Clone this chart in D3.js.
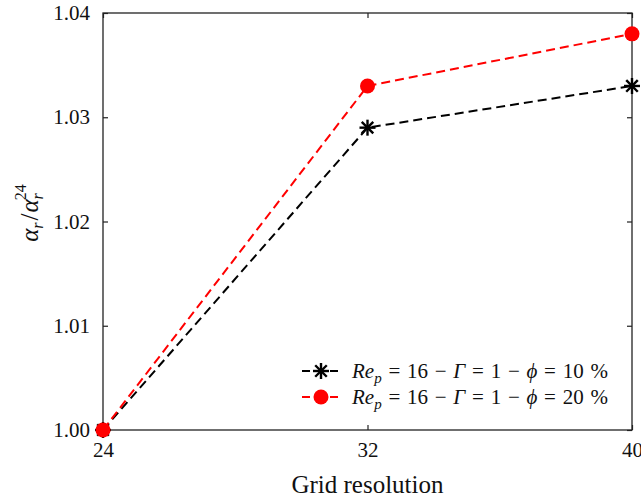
<!DOCTYPE html>
<html>
<head lang="en">
    <meta charset="UTF-8">
    <title></title>
    <style>
        body { margin: 0; background: #fff; }
        text { font-family: "Liberation Serif", "DejaVu Serif", serif; }
    </style>
</head>
<body>
    <div id="graph"></div>

<script src="https://cdn.jsdelivr.net/npm/d3@7"></script>
<script>
    // データ
    var gridRes = [24, 32, 40];
    var phi10 = [1.000, 1.029, 1.033];
    var phi20 = [1.000, 1.033, 1.038];
    var yTicks = [1.00, 1.01, 1.02, 1.03, 1.04];
    var seriesNames = ["10", "20"];

    var W = 641, H = 500;
    var mLeft = 103, mRight = 632, mTop = 13, mBottom = 430;

    var svg = d3.select("#graph")
        .append("svg")
        .attr("width", W)
        .attr("height", H);

    var x = d3.scaleLinear().domain([24, 40]).range([mLeft, mRight]);
    var y = d3.scaleLinear().domain([1.00, 1.04]).range([mBottom, mTop]);

    //軸（内向きの目盛り）
    svg.append("g").attr("transform", "translate(0," + mBottom + ")")
        .call(d3.axisBottom(x).tickValues(gridRes).tickSizeInner(-5).tickSizeOuter(0).tickPadding(12));
    svg.append("g").attr("transform", "translate(" + mLeft + ",0)")
        .call(d3.axisLeft(y).tickValues(yTicks).tickFormat(d3.format(".2f")).tickSizeInner(-5).tickSizeOuter(0).tickPadding(13));
    svg.append("g").attr("transform", "translate(0," + mTop + ")")
        .call(d3.axisTop(x).tickValues(gridRes).tickSizeInner(-5).tickSizeOuter(0).tickFormat(""));
    svg.append("g").attr("transform", "translate(" + mRight + ",0)")
        .call(d3.axisRight(y).tickValues(yTicks).tickSizeInner(-5).tickSizeOuter(0).tickFormat(""));

    svg.selectAll(".domain").remove();
    svg.selectAll(".tick line").attr("stroke", "#222").attr("stroke-width", 1.2);
    svg.selectAll(".tick text").attr("font-size", 21).attr("fill", "#111")
        .style("font-family", "'Liberation Serif', serif");

    //枠
    svg.append("rect")
        .attr("x", mLeft).attr("y", mTop)
        .attr("width", mRight - mLeft).attr("height", mBottom - mTop)
        .attr("fill", "none").attr("stroke", "#222").attr("stroke-width", 1.3);

    var line = d3.line()
        .x(function(d, i){ return x(gridRes[i]); })
        .y(function(d){ return y(d); });

    function star(g, cx, cy, r){
        var a = r * 0.72;
        var segs = [[0, -r, 0, r], [-r, 0, r, 0], [-a, -a, a, a], [-a, a, a, -a]];
        segs.forEach(function(s){
            g.append("line")
                .attr("x1", cx + s[0]).attr("y1", cy + s[1])
                .attr("x2", cx + s[2]).attr("y2", cy + s[3])
                .attr("stroke", "#000").attr("stroke-width", 2.4);
        });
    }

    //黒の系列
    svg.append("path").datum(phi10)
        .attr("d", line)
        .attr("fill", "none").attr("stroke", "#000")
        .attr("stroke-width", 2).attr("stroke-dasharray", "9,5");
    var g1 = svg.append("g");
    phi10.forEach(function(d, i){ star(g1, x(gridRes[i]), y(d), 8); });

    //赤の系列
    svg.append("path").datum(phi20)
        .attr("d", line)
        .attr("fill", "none").attr("stroke", "#ff0000")
        .attr("stroke-width", 2).attr("stroke-dasharray", "9,5");
    svg.append("g").selectAll("circle").data(phi20).enter()
        .append("circle")
        .attr("cx", function(d, i){ return x(gridRes[i]); })
        .attr("cy", function(d){ return y(d); })
        .attr("r", 7.5)
        .attr("fill", "#ff0000");

    //凡例
    var legY = [371, 397];
    var legColors = ["#000", "#ff0000"];
    seriesNames.forEach(function(name, i){
        var ly = legY[i];
        svg.append("line")
            .attr("x1", 302).attr("x2", 340).attr("y1", ly).attr("y2", ly)
            .attr("stroke", legColors[i]).attr("stroke-width", 2)
            .attr("stroke-dasharray", "8,6");
        if (i === 0) {
            star(svg.append("g"), 321, ly, 8);
        } else {
            svg.append("circle").attr("cx", 321).attr("cy", ly).attr("r", 7.5).attr("fill", "#ff0000");
        }
        var t = svg.append("text").attr("x", 352).attr("y", ly + 7).attr("font-size", 21).attr("fill", "#111")
            .attr("word-spacing", 1.5);
        t.append("tspan").attr("font-style", "italic").text("Re");
        t.append("tspan").attr("font-style", "italic").attr("font-size", 15).attr("dy", 5).text("p");
        t.append("tspan").attr("dy", -5).text(" = 16 \u2212 ");
        t.append("tspan").attr("font-style", "italic").text("\u0393");
        t.append("tspan").text(" = 1 \u2212 ");
        t.append("tspan").attr("font-style", "italic").text("\u03d5");
        t.append("tspan").text(" = " + name + " %");
    });

    //軸ラベル
    svg.append("text")
        .attr("x", (mLeft + mRight) / 2).attr("y", 493)
        .attr("text-anchor", "middle").attr("font-size", 25).attr("fill", "#111")
        .text("Grid resolution");

    var yl = svg.append("text")
        .attr("transform", "translate(38," + 213 + ") rotate(-90)")
        .attr("text-anchor", "middle").attr("font-size", 25).attr("fill", "#111");
    yl.append("tspan").attr("font-style", "italic").text("\u03b1");
    yl.append("tspan").attr("font-style", "italic").attr("font-size", 16).attr("dy", 5).text("r");
    yl.append("tspan").attr("dy", -5).attr("dx", 2).text("/");
    yl.append("tspan").attr("font-style", "italic").attr("dx", 1).text("\u03b1");
    yl.append("tspan").attr("font-style", "italic").attr("font-size", 16).attr("dy", 5).text("r");
    yl.append("tspan").attr("font-size", 16).attr("dx", -7).attr("dy", -17).text("24");
</script>
</body>
</html>
